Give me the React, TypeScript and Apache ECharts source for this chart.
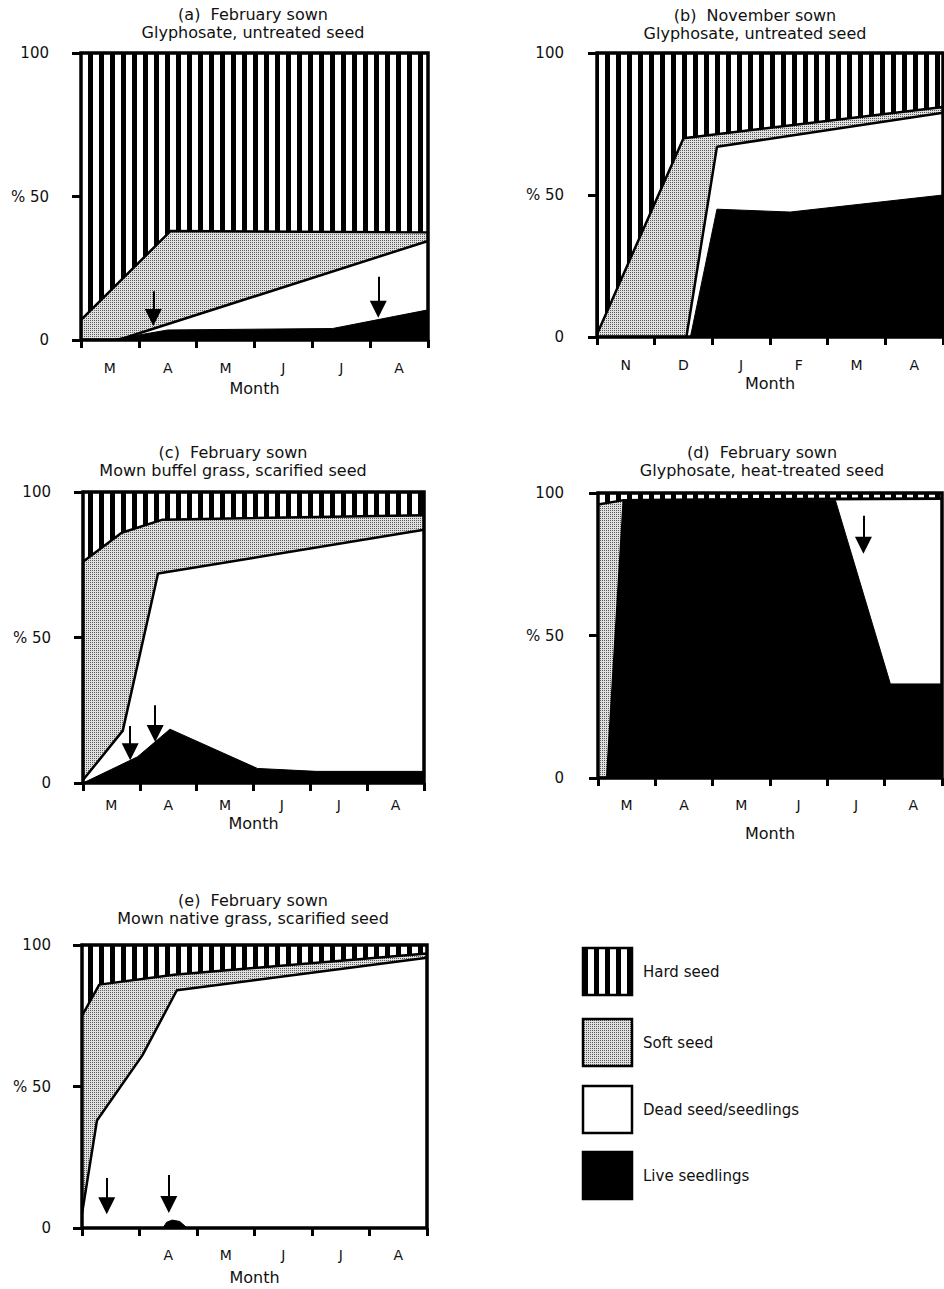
import React, { useEffect, useRef } from 'react';
import * as echarts from 'echarts';

// ---------- month labels (x categories) ----------
const monthsFeb = ['M', 'A', 'M', 'J', 'J', 'A'];
const monthsNov = ['N', 'D', 'J', 'F', 'M', 'A'];
const monthsE = ['', 'A', 'M', 'J', 'J', 'A'];

// ---------- cumulative boundaries: [months after sowing, %] ----------
const hardTop = [[0, 100], [6, 100]];

const aSoftTop = [[0, 7], [1.55, 38], [6, 37.5]];
const aDeadTop = [[0, 0], [0.64, 0], [6, 34.5]];
const aLiveTop = [[0, 0], [0.5, 0], [1.5, 3.5], [4.35, 4], [6, 10.5]];
const aArrows = [[1.25, 17, 7.8], [5.14, 22, 10.7]];

const bSoftTop = [[0, 1], [1.5, 70], [6, 81]];
const bDeadTop = [[0, 0], [1.55, 0], [2.08, 67], [6, 79]];
const bLiveTop = [[0, 0], [1.62, 0], [2.08, 45], [3.35, 44], [6, 50]];
const bArrows: number[][] = [];

const cSoftTop = [[0, 76], [0.68, 86], [1.4, 90.5], [6, 92]];
const cDeadTop = [[0, 1], [0.7, 18], [1.32, 72], [6, 87]];
const cLiveTop = [[0, 0], [0.96, 9], [1.53, 18.5], [3.07, 5], [4.1, 4], [6, 4]];
const cArrows = [[0.83, 19.6, 10.7], [1.27, 26.7, 17.0]];

const dSoftTop = [[0, 96], [0.45, 97.5], [6, 98]];
const dDeadTop = [[0, 0], [0.16, 0], [0.45, 97.5], [4.14, 98], [6, 98]];
const dLiveTop = [[0, 0], [0.16, 0], [0.45, 97.5], [4.14, 97.5], [5.1, 33], [6, 33]];
const dArrows = [[4.63, 92, 81.7]];

const eSoftTop = [[0, 75], [0.3, 86], [1.6, 89.5], [6, 97]];
const eDeadTop = [[0, 5], [0.26, 38], [1.05, 61], [1.65, 84], [6, 95.5]];
const eLiveTop = [[0, 0], [1.41, 0], [1.47, 2], [1.57, 2.8], [1.7, 2.3], [1.83, 0], [6, 0]];
const eArrows = [[0.43, 17.7, 7.9], [1.51, 18.7, 8.3]];

const yTicks = [0, 50, 100];
const legendNames = ['Hard seed', 'Soft seed', 'Dead seed/seedlings', 'Live seedlings'];

const panels = [
  { title1: '(a)  February sown', title2: 'Glyphosate, untreated seed', months: monthsFeb, soft: aSoftTop, dead: aDeadTop, live: aLiveTop, arrows: aArrows },
  { title1: '(b)  November sown', title2: 'Glyphosate, untreated seed', months: monthsNov, soft: bSoftTop, dead: bDeadTop, live: bLiveTop, arrows: bArrows },
  { title1: '(c)  February sown', title2: 'Mown buffel grass, scarified seed', months: monthsFeb, soft: cSoftTop, dead: cDeadTop, live: cLiveTop, arrows: cArrows },
  { title1: '(d)  February sown', title2: 'Glyphosate, heat-treated seed', months: monthsFeb, soft: dSoftTop, dead: dDeadTop, live: dLiveTop, arrows: dArrows },
  { title1: '(e)  February sown', title2: 'Mown native grass, scarified seed', months: monthsE, soft: eSoftTop, dead: eDeadTop, live: eLiveTop, arrows: eArrows },
];

// ---------- layout ----------
const layouts = [
  { left: 81, top: 53, width: 347, height: 287, yOffset: 18, labelMargin: 21, nameGap: 40, tx: 253, ty: 14 },
  { left: 597, top: 53, width: 346, height: 284, yOffset: 19, labelMargin: 21, nameGap: 38, tx: 755, ty: 15 },
  { left: 83, top: 492, width: 341, height: 291, yOffset: 18, labelMargin: 15, nameGap: 32, tx: 233, ty: 452 },
  { left: 598, top: 493, width: 344, height: 285, yOffset: 20, labelMargin: 20, nameGap: 47, tx: 762, ty: 452 },
  { left: 82, top: 945, width: 345, height: 283, yOffset: 17, labelMargin: 20, nameGap: 41, tx: 253, ty: 900 },
];
const legendLayout = { x: 583, w: 49, h: 47, ys: [948, 1019, 1086, 1152], textX: 643 };

const FONT = '"DejaVu Sans", "Liberation Sans", sans-serif';
const INK = '#111';

function makePattern(w: number, h: number, draw: (ctx: CanvasRenderingContext2D) => void) {
  const c = document.createElement('canvas');
  c.width = w;
  c.height = h;
  const ctx = c.getContext('2d') as CanvasRenderingContext2D;
  draw(ctx);
  return { image: c.toDataURL(), repeat: 'repeat', imageWidth: w, imageHeight: h } as any;
}

export default function App() {
  const ref = useRef<HTMLDivElement>(null);

  useEffect(() => {
    document.body.style.margin = '0';
    if (!ref.current) return;
    const chart = echarts.init(ref.current, null, { renderer: 'svg' });

    const stripes = makePattern(11, 4, (ctx) => {
      ctx.fillStyle = '#ffffff';
      ctx.fillRect(0, 0, 11, 4);
      ctx.fillStyle = '#000000';
      ctx.fillRect(0, 0, 5, 4);
    });
    const stipple = makePattern(2, 2, (ctx) => {
      ctx.fillStyle = '#e0e0e0';
      ctx.fillRect(0, 0, 2, 2);
      ctx.fillStyle = '#5a5a5a';
      ctx.fillRect(0, 0, 1, 1);
    });
    const fills = [stripes, stipple, '#ffffff', '#000000'];

    const series: any[] = [];
    panels.forEach((p, i) => {
      const base = {
        type: 'line',
        xAxisIndex: 2 * i,
        yAxisIndex: i,
        symbol: 'none',
        silent: true,
        smooth: false,
        emphasis: { disabled: true },
      };
      series.push({ ...base, name: legendNames[0], data: hardTop, lineStyle: { width: 0, opacity: 0 }, areaStyle: { color: stripes, opacity: 1, origin: 'start' } });
      series.push({ ...base, name: legendNames[1], data: p.soft, lineStyle: { color: '#000', width: 2.5 }, areaStyle: { color: stipple, opacity: 1, origin: 'start' } });
      series.push({ ...base, name: legendNames[2], data: p.dead, lineStyle: { color: '#000', width: 2.5 }, areaStyle: { color: '#fff', opacity: 1, origin: 'start' } });
      series.push({
        ...base,
        name: legendNames[3],
        data: p.live,
        lineStyle: { color: '#000', width: 1 },
        areaStyle: { color: '#000', opacity: 1, origin: 'start' },
        markLine: {
          silent: true,
          symbol: ['none', 'triangle'],
          symbolSize: 17,
          label: { show: false },
          lineStyle: { color: '#000', width: 2, type: 'solid' },
          emphasis: { disabled: true },
          data: p.arrows.map(([x, y0, y1]) => [{ coord: [x, y0] }, { coord: [x, y1] }]),
        },
      });
    });

    const graphic: any[] = [];
    layouts.forEach((l, i) => {
      graphic.push({
        type: 'rect', z: 100, silent: true,
        shape: { x: l.left, y: l.top, width: l.width, height: l.height },
        style: { fill: 'none', stroke: '#000', lineWidth: 3.5 },
      });
      [panels[i].title1, panels[i].title2].forEach((t, k) => {
        graphic.push({
          type: 'text', z: 100, silent: true, x: l.tx, y: l.ty + k * 18,
          style: { text: t, fill: INK, font: `16px ${FONT}`, align: 'center', verticalAlign: 'middle', textAlign: 'center', textVerticalAlign: 'middle' },
        });
      });
    });
    legendNames.forEach((name, k) => {
      const y = legendLayout.ys[k];
      graphic.push({
        type: 'rect', z: 100, silent: true,
        shape: { x: legendLayout.x, y, width: legendLayout.w, height: legendLayout.h },
        style: { fill: fills[k], stroke: '#000', lineWidth: 2.5 },
      });
      graphic.push({
        type: 'text', z: 100, silent: true, x: legendLayout.textX, y: y + legendLayout.h / 2,
        style: { text: name, fill: INK, font: `15px ${FONT}`, align: 'left', verticalAlign: 'middle', textAlign: 'left', textVerticalAlign: 'middle' },
      });
    });

    const option: any = {
      animation: false,
      backgroundColor: '#fff',
      grid: layouts.map((l) => ({ left: l.left, top: l.top, width: l.width, height: l.height, show: false })),
      xAxis: panels.flatMap((p, i) => [
        { type: 'value', gridIndex: i, min: 0, max: 6, show: false, position: 'bottom' },
        {
          type: 'category', gridIndex: i, data: p.months, position: 'bottom', boundaryGap: true,
          axisLine: { show: false },
          axisTick: { show: true, length: 8, alignWithLabel: false, lineStyle: { color: '#000', width: 3 } },
          axisLabel: { color: INK, fontSize: 14, fontFamily: FONT, margin: layouts[i].labelMargin, interval: 0 },
          splitLine: { show: false },
          name: 'Month', nameLocation: 'middle', nameGap: layouts[i].nameGap,
          nameTextStyle: { color: INK, fontSize: 16, fontFamily: FONT },
        },
      ]),
      yAxis: panels.map((p, i) => ({
        type: 'value', gridIndex: i, min: yTicks[0], max: yTicks[2], interval: yTicks[1] - yTicks[0],
        position: 'left', offset: layouts[i].yOffset,
        axisLine: { show: true, lineStyle: { color: '#000', width: 3 } },
        axisTick: { show: true, length: 9, lineStyle: { color: '#000', width: 3 } },
        axisLabel: { color: INK, fontSize: 15, fontFamily: FONT, margin: 14, formatter: (v: number) => (v === 50 ? '% 50' : String(v)) },
        splitLine: { show: false },
      })),
      series,
      graphic,
    };

    chart.setOption(option);
    return () => chart.dispose();
  }, []);

  return <div ref={ref} style={{ position: 'absolute', left: 0, top: 0, width: 944, height: 1289 }} />;
}
